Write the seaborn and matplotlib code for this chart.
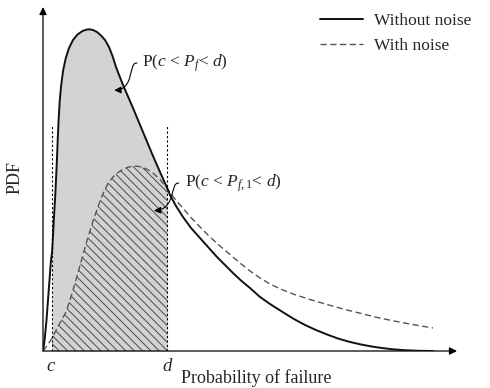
import numpy as np
import matplotlib
matplotlib.use('Agg')
import matplotlib.pyplot as plt
from matplotlib.path import Path
from matplotlib.patches import FancyArrowPatch
import seaborn as sns

# values (x: probability of failure, y: PDF, arbitrary 0-100 scale)
pf_without = [0.0, 0.39, 0.85, 1.21, 1.57, 1.93, 2.20, 2.61, 2.90, 3.14, 3.36, 3.55, 3.77,
              4.06, 4.40, 4.88, 5.51, 6.28, 7.25, 8.33, 9.54, 10.63, 11.23, 12.08, 13.04,
              14.01, 14.98, 15.94, 16.79, 17.63, 19.32, 21.74, 24.15, 26.57, 28.26, 30.00,
              30.68, 32.13, 33.82, 35.75, 37.92, 39.86, 42.03, 43.96, 45.89, 47.83, 50.00,
              52.42, 54.83, 57.49, 60.39, 63.29, 65.94, 68.60, 71.26, 73.91, 76.57, 79.23,
              81.88, 84.54, 87.44, 90.82, 94.20]
pdf_without = [0.0, 3.20, 9.01, 14.83, 20.64, 26.45, 28.78, 38.08, 43.90, 49.71, 55.52, 61.34, 67.15,
               72.97, 77.33, 81.69, 85.17, 88.08, 90.41, 92.01, 93.02, 93.46, 93.52, 93.31, 92.73,
               91.72, 90.41, 88.37, 85.76, 82.56, 77.33, 70.64, 63.66, 56.69, 52.03, 47.38,
               45.35, 42.15, 38.95, 35.76, 32.85, 30.23, 27.33, 25.00, 22.67, 20.49, 18.31,
               15.70, 13.66, 11.63, 9.45, 7.56, 6.10, 4.80, 3.63, 2.70, 1.95, 1.34,
               0.87, 0.49, 0.23, 0.06, 0.0]
pf_with = [0.0, 1.09, 2.20, 3.62, 5.56, 6.76, 7.97, 9.18, 10.39, 12.08, 13.77, 14.73, 15.70,
           16.91, 18.12, 19.32, 20.53, 21.74, 22.95, 24.15, 25.36, 26.57, 28.26, 30.00,
           31.40, 33.33, 35.51, 37.92, 40.34, 42.75, 45.17, 47.58, 50.00, 52.42, 54.83,
           57.25, 60.39, 64.49, 68.60, 72.46, 76.57, 80.43, 84.54, 89.37, 94.20]
pdf_with = [0.0, 1.74, 3.78, 7.12, 11.34, 15.70, 20.64, 25.87, 31.10, 37.79, 43.60, 46.37, 48.69,
            50.58, 51.89, 52.82, 53.43, 53.72, 53.69, 53.34, 52.67, 51.74, 49.85, 47.24,
            44.91, 42.15, 39.10, 36.05, 33.14, 30.52, 28.05, 25.58, 23.26, 21.22, 19.48,
            18.08, 16.57, 14.97, 13.52, 12.21, 10.99, 9.83, 8.78, 7.67, 6.69]
c_val = 2.2
d_val = 30.0
labels = ['Without noise', 'With noise']

sns.set_style('white')
plt.rcParams['font.family'] = ['Liberation Serif', 'DejaVu Serif']
plt.rcParams['mathtext.fontset'] = 'custom'
plt.rcParams['mathtext.rm'] = 'Liberation Serif'
plt.rcParams['mathtext.it'] = 'Liberation Serif:italic'
plt.rcParams['hatch.linewidth'] = 0.7
FS = 12.5

sx, sy = np.array(pf_without), np.array(pdf_without)
nx, ny = np.array(pf_with), np.array(pdf_with)

fig = plt.figure(figsize=(4.9, 3.88), dpi=100)
ax = fig.add_axes([43 / 490, 37 / 388, 414 / 490, 344 / 388])
ax.set_xlim(0, 100)
ax.set_ylim(0, 100)

# shaded areas between c and d
m = (sx >= c_val) & (sx <= d_val)
ax.fill_between(sx[m], sy[m], color='#d3d3d5', lw=0, zorder=1)
m2 = (nx >= c_val) & (nx <= d_val)
ax.fill_between(nx[m2], ny[m2], facecolor='none', edgecolor='#4a4a4a',
                hatch='\\\\\\\\', lw=0, zorder=2)

sns.lineplot(x=sx, y=sy, ax=ax, color='#111111', linewidth=1.4, label=labels[0], zorder=4)
sns.lineplot(x=nx, y=ny, ax=ax, color='#555555', linewidth=1.0,
             linestyle=(0, (4.5, 2.5)), label=labels[1], zorder=3)

ax.vlines([c_val, d_val], 0, 65.4, colors='k', linewidth=0.8, linestyles=(0, (2, 2)), zorder=5)

# axes with arrows
for sp in ax.spines.values():
    sp.set_visible(False)
ax.set_xticks([])
ax.set_yticks([])
ax.set_xlabel('')
ax.set_ylabel('')
arw = dict(arrowstyle='-|>', color='k', lw=0.9, mutation_scale=11, shrinkA=0, shrinkB=0)
ax.annotate('', xy=(100, 0), xytext=(0, 0), arrowprops=arw, annotation_clip=False)
ax.annotate('', xy=(0, 100), xytext=(0, 0), arrowprops=arw, annotation_clip=False)

ax.text(c_val - 0.4, -2.0, 'c', ha='center', va='top', fontsize=FS + 1, style='italic')
ax.text(d_val, -2.0, 'd', ha='center', va='top', fontsize=FS + 1, style='italic')
fig.text(15 / 490, 1 - 178 / 388, 'PDF', rotation=90, ha='center', va='center', fontsize=FS + 0.5)
fig.text(256 / 490, 1 - 378 / 388, 'Probability of failure', ha='center', va='center', fontsize=FS + 0.5)

# wavy pointers
ax.text(23.8, 83.7, r'P($c$ < $P_f$< $d$)', ha='left', va='center', fontsize=FS)
p1 = Path([(22.7, 83.7), (20.6, 84.2), (22.2, 76.0), (17.2, 75.8)],
          [Path.MOVETO, Path.CURVE4, Path.CURVE4, Path.CURVE4])
ax.add_patch(FancyArrowPatch(path=p1, arrowstyle='-|>', mutation_scale=10, color='k', lw=0.8, zorder=6))
ax.text(34.2, 48.8, r'P($c$ < $P_{f,1}$< $d$)', ha='left', va='center', fontsize=FS)
p2 = Path([(32.8, 48.8), (30.6, 49.2), (32.3, 41.2), (26.8, 40.8)],
          [Path.MOVETO, Path.CURVE4, Path.CURVE4, Path.CURVE4])
ax.add_patch(FancyArrowPatch(path=p2, arrowstyle='-|>', mutation_scale=10, color='k', lw=0.8, zorder=6))

ax.legend(loc='upper left', bbox_to_anchor=(320 / 490, 1 - 13 / 388), bbox_transform=fig.transFigure,
          frameon=False, fontsize=FS, handlelength=2.45, handletextpad=0.65, labelspacing=0.5,
          borderpad=0, borderaxespad=0)

fig.savefig('out.png', dpi=100)
